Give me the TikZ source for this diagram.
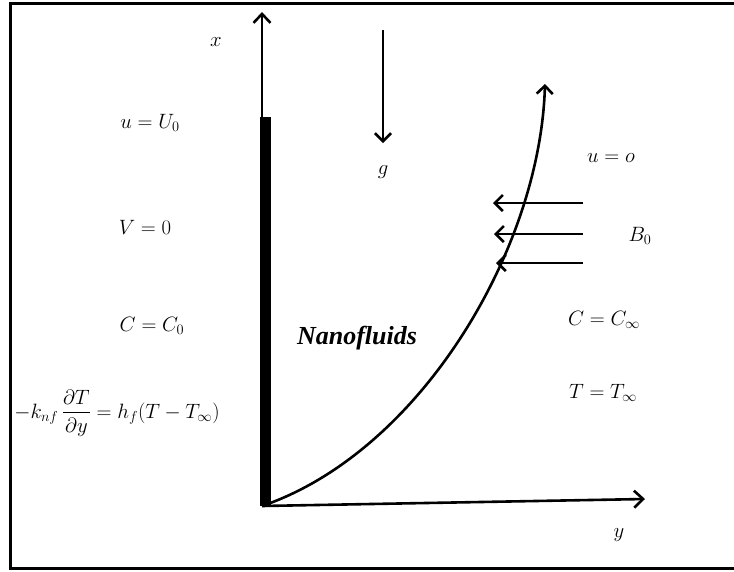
\documentclass[tikz,border=0pt]{standalone}
\usepackage{fontspec}
\usepackage{amsmath}
\newfontfamily\nanofont{Liberation Serif}
\usetikzlibrary{arrows.meta}
\tikzset{
  lbl/.style={inner sep=0pt, font=\fontsize{21}{24}\selectfont},
  axis/.style={line width=2.6pt, -{Straight Barb[length=9pt,width=17pt,line width=2.6pt]}},
  arr/.style={line width=2.6pt, -{Straight Barb[length=8pt,width=16pt,line width=2.6pt]}},
}
\begin{document}
\begin{tikzpicture}[x=1pt,y=-1pt]
\useasboundingbox (0,0) rectangle (734,571);
% frame
\draw[line width=3pt] (734,3) -- (10,3) -- (10,568) -- (734,568);
% origin and axes
\coordinate (O) at (262,506);
\coordinate (xtip) at (262,12);
\coordinate (ytip) at (645,499);
\draw[axis] (O) -- (xtip);
\draw[axis] (O) -- (ytip);
% plate
\coordinate (ptop) at (265.5,117);
\coordinate (pbot) at (265.5,506);
\draw[line width=11pt] (pbot) -- (ptop);
% boundary layer curve
\coordinate (ctip) at (545,84);
\draw[arr] (O) .. controls (420,452) and (540,250) .. (ctip);
% gravity
\coordinate (g1) at (383,30);
\coordinate (g2) at (383,143);
\draw[arr] (g1) -- (g2);
% magnetic field arrows
\coordinate (b1s) at (583,203); \coordinate (b1e) at (493,203);
\coordinate (b2s) at (583,234); \coordinate (b2e) at (494,234);
\coordinate (b3s) at (583,263); \coordinate (b3e) at (496,263);
\draw[arr] (b1s) -- (b1e);
\draw[arr] (b2s) -- (b2e);
\draw[arr] (b3s) -- (b3e);
% labels
\node[lbl] (lx) at (216,42) {$x$};
\node[lbl] (ly) at (619,535) {$y$};
\node[lbl] (lg) at (383,172) {$g$};
\node[lbl] (lu0) at (150,123) {$u=U_0$};
\node[lbl] (lv) at (145,227) {$V=0$};
\node[lbl] (lc0) at (152,326) {$C=C_0$};
\node[lbl] (lbc) at (117,413) {$-k_{nf}\,\dfrac{\partial T}{\partial y}=h_f(T-T_\infty)$};
\node[lbl] (luo) at (611,158) {$u=o$};
\node[lbl] (lb0) at (640,236) {$B_0$};
\node[lbl] (lcinf) at (604,320) {$C=C_\infty$};
\node[lbl] (ltinf) at (603,393) {$T=T_\infty$};
\node[inner sep=0pt, font=\nanofont\bfseries\itshape\fontsize{26}{30}\selectfont] (nano) at (357,338) {Nanofluids};
\end{tikzpicture}
\end{document}
